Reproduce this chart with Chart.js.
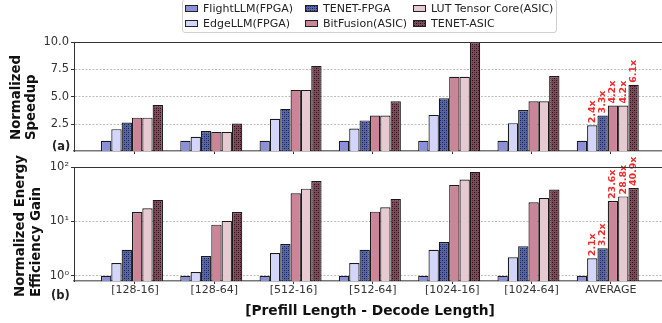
<!DOCTYPE html>
<html lang="en">
<head>
<meta charset="UTF-8">
<title>Normalized Speedup and Energy Efficiency Gain</title>
<script src="https://cdn.jsdelivr.net/npm/chart.js@4.4.0/dist/chart.umd.min.js"></script>
<style>
  body { margin: 0; background: #fff; font-family: 'DejaVu Sans', sans-serif; }
  #wrap { position: relative; width: 662px; height: 323px; overflow: hidden; }
  canvas { position: absolute; left: 0; }
  .ytitle { position: absolute; transform-origin: top left; transform: rotate(-90deg);
            font-weight: bold; font-size: 13.3px; white-space: pre; color: #111; text-align: left; }
  .tag { position: absolute; font-weight: bold; font-size: 11.5px; color: #222; }
  #xtitle { position: absolute; left: 170px; width: 400px; top: 302px; text-align: center;
            font-weight: bold; font-size: 13.8px; line-height: 16px; color: #111; }
  #legend { position: absolute; left: 182px; top: -1px; width: 375px; height: 34px; box-sizing: border-box;
            border: 1px solid #d0d0d0; border-radius: 3px; background: rgba(255,255,255,0.9); }
  .sw { position: absolute; width: 13px; height: 7px; box-sizing: border-box; border: 1px solid #222; }
  .lt { position: absolute; font-size: 11px; line-height: 14px; color: #222; white-space: nowrap; }
</style>
</head>
<body>
<div id="wrap">
  <canvas id="speed" width="680" height="160" style="top:0"></canvas>
  <canvas id="energy" width="680" height="173" style="top:150px"></canvas>
  <div id="legend"></div>
  <div class="ytitle" style="left:7.6px; top:140px; line-height:15px">Normalized
Speedup</div>
  <div class="ytitle" style="left:11.5px; top:297px; line-height:16px">Normalized Energy
Efficiency Gain</div>
  <div class="tag" style="left:52px; top:139px">(a)</div>
  <div class="tag" style="left:51px; top:288px">(b)</div>
  <div id="xtitle">[Prefill Length - Decode Length]</div>
</div>

<script>
const categories = ['[128-16]', '[128-64]', '[512-16]', '[512-64]', '[1024-16]', '[1024-64]', 'AVERAGE'];
const seriesNames = ['FlightLLM(FPGA)', 'EdgeLLM(FPGA)', 'TENET-FPGA', 'BitFusion(ASIC)', 'LUT Tensor Core(ASIC)', 'TENET-ASIC'];

// (a) normalized speedup
const speedFlight = [1, 1, 1, 1, 1, 1, 1];
const speedEdge   = [2.05, 1.35, 3.0, 2.1, 3.35, 2.6, 2.4];
const speedTfpga  = [2.65, 1.88, 3.9, 2.85, 4.87, 3.8, 3.3];
const speedBit    = [3.1, 1.8, 5.63, 3.29, 6.82, 4.6, 4.2];
const speedLut    = [3.1, 1.8, 5.63, 3.29, 6.82, 4.6, 4.2];
const speedAsic   = [4.25, 2.56, 7.82, 4.6, 10.0, 6.9, 6.1];
const speedTicks  = [2.5, 5, 7.5, 10];

// (b) normalized energy efficiency gain (log)
const energyFlight = [1, 1, 1, 1, 1, 1, 1];
const energyEdge   = [1.71, 1.17, 2.62, 1.71, 3.0, 2.18, 2.1];
const energyTfpga  = [3.01, 2.3, 3.83, 3.0, 4.17, 3.47, 3.2];
const energyBit    = [14.9, 8.7, 32.8, 15.1, 46.8, 22.4, 23.6];
const energyLut    = [17.4, 10.2, 40.0, 18.1, 58.6, 26.9, 28.8];
const energyAsic   = [24.8, 14.9, 55.4, 25.8, 81.2, 38.4, 40.9];
const energyTicks  = [1, 10, 100];
const energyTickLabels = ['10\u2070', '10\u00b9', '10\u00b2'];

Chart.defaults.font.family = "'DejaVu Sans', sans-serif";
Chart.defaults.color = '#333';

function dotPattern(base, dot, mid) {
    const c = document.createElement('canvas');
    c.width = 4; c.height = 4;
    const g = c.getContext('2d');
    g.fillStyle = base; g.fillRect(0, 0, 4, 4);
    g.fillStyle = dot;
    g.fillRect(0, 0, 1, 1);
    g.fillRect(2, 2, 1, 1);
    g.fillStyle = mid;
    g.fillRect(2, 0, 1, 1);
    g.fillRect(0, 2, 1, 1);
    return c;
}
const fpgaTile = dotPattern('#5666ac', '#1a2048', '#36427e');
const asicTile = dotPattern('#7f4b5a', '#2a0f16', '#55303b');
const patCtx = document.getElementById('speed').getContext('2d');
const colors = [
    '#8b91d8',
    '#d3d5fb',
    patCtx.createPattern(fpgaTile, 'repeat'),
    '#cc8499',
    '#e7c9d2',
    patCtx.createPattern(asicTile, 'repeat')
];
const swatchCss = [
    'background:#8b91d8',
    'background:#d3d5fb',
    'background-image:url(' + fpgaTile.toDataURL() + ')',
    'background:#cc8499',
    'background:#e7c9d2',
    'background-image:url(' + asicTile.toDataURL() + ')'
];

// legend, column-major like the original
const legendX = [185, 305, 413];
const legendY = [8.5, 23.5];
const wrap = document.getElementById('wrap');
seriesNames.forEach((name, i) => {
    const x = legendX[Math.floor(i / 2)], y = legendY[i % 2];
    const sw = document.createElement('div');
    sw.className = 'sw';
    sw.style.cssText = swatchCss[i] + ';left:' + x + 'px;top:' + (y - 3.5) + 'px';
    const t = document.createElement('div');
    t.className = 'lt';
    t.textContent = name;
    t.style.left = (x + 18) + 'px';
    t.style.top = (y - 7) + 'px';
    wrap.appendChild(sw);
    wrap.appendChild(t);
});

const topLine = {
    id: 'topLine',
    afterDraw(chart) {
        const { ctx, chartArea: a } = chart;
        ctx.save();
        ctx.strokeStyle = '#333';
        ctx.lineWidth = 1;
        ctx.beginPath();
        ctx.moveTo(a.left, a.top + 0.5);
        ctx.lineTo(a.right, a.top + 0.5);
        ctx.stroke();
        ctx.restore();
    }
};

const avgLabels = {
    id: 'avgLabels',
    afterDatasetsDraw(chart) {
        const ctx = chart.ctx;
        const last = categories.length - 1;
        ctx.save();
        ctx.fillStyle = '#f02a2a';
        ctx.font = "bold 9.5px 'DejaVu Sans'";
        ctx.textAlign = 'left';
        ctx.textBaseline = 'middle';
        chart.data.datasets.forEach((ds, i) => {
            if (i === 0) return;
            const bar = chart.getDatasetMeta(i).data[last];
            ctx.save();
            ctx.translate(bar.x, bar.y - 2);
            ctx.rotate(-Math.PI / 2);
            ctx.fillText(ds.data[last].y.toFixed(1) + 'x', 0, 0);
            ctx.restore();
        });
        ctx.restore();
    }
};

function makeChart(id, series, yScale, padTop, xHeight, showLabels) {
    return new Chart(document.getElementById(id), {
        type: 'bar',
        data: {
            datasets: series.map((vals, i) => ({
                label: seriesNames[i],
                data: vals.map((v, k) => ({ x: k, y: v })),
                backgroundColor: colors[i],
                borderColor: '#1a1a1a',
                borderWidth: 1.2,
                categoryPercentage: 0.782,
                barPercentage: 1.0
            }))
        },
        options: {
            responsive: false,
            animation: false,
            devicePixelRatio: 1,
            layout: { padding: { top: padTop, right: 8, left: 0, bottom: 0 } },
            plugins: { legend: { display: false }, tooltip: { enabled: false } },
            scales: {
                x: {
                    type: 'linear',
                    min: -0.731,
                    max: 6.81,
                    offset: false,
                    grid: { offset: false, drawOnChartArea: false, drawTicks: true, tickLength: 3, tickColor: '#333' },
                    border: { color: '#777', width: 1.6 },
                    afterBuildTicks: s => { s.ticks = categories.map((c, i) => ({ value: i + 0.038 })); },
                    ticks: {
                        autoSkip: false, maxRotation: 0, padding: 0,
                        font: { size: 11 }, color: '#333',
                        callback: (v, i) => showLabels ? categories[i] : ''
                    },
                    afterFit: s => { s.height = xHeight; }
                },
                y: Object.assign({
                    grid: { color: '#bdbdbd', lineWidth: 1, drawTicks: true, tickLength: 3, tickColor: '#333' },
                    border: { color: '#333', width: 1, dash: [2, 1.5] },
                    afterFit: s => { s.width = 74; }
                }, yScale)
            }
        },
        plugins: [topLine, avgLabels]
    });
}

makeChart('speed',
    [speedFlight, speedEdge, speedTfpga, speedBit, speedLut, speedAsic],
    {
        type: 'linear', min: 0.05, max: 10,
        afterBuildTicks: s => { s.ticks = speedTicks.map(v => ({ value: v })); },
        ticks: { padding: 2, font: { size: 11.5 }, color: '#333', callback: v => v.toFixed(1) }
    },
    42, 5, false);

makeChart('energy',
    [energyFlight, energyEdge, energyTfpga, energyBit, energyLut, energyAsic],
    {
        type: 'logarithmic', min: 0.8, max: 100,
        afterBuildTicks: s => { s.ticks = energyTicks.map(v => ({ value: v })); },
        ticks: { padding: 2, font: { size: 11.5 }, color: '#333',
                 callback: v => energyTickLabels[energyTicks.indexOf(v)] }
    },
    17, 42, true);
</script>
</body>
</html>
